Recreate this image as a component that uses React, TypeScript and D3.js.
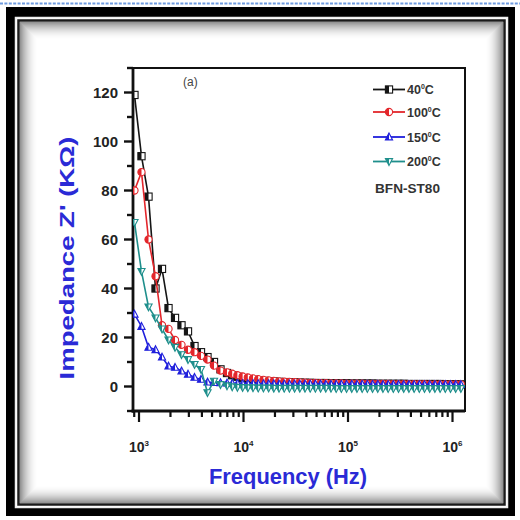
import React from 'react';
import * as d3 from 'd3';

// Frequency (Hz)
const freq = [905, 1056, 1233, 1439, 1660, 1916, 2211, 2551, 2944, 3397, 3920, 4524, 5220, 6024, 6952,
  7795, 8741, 9801, 10990, 12320, 13820, 15500, 17380, 19480, 21850, 24500, 27470, 30800, 34540, 38730,
  43430, 48690, 54600, 61220, 68650, 76980, 86310, 96780, 108500, 121700, 136500, 153000, 171600, 192400, 215700,
  241900, 271200, 304100, 341000, 382400, 428800, 480800, 539100, 604500, 677800, 760000, 852200, 955600, 1071000, 1201000];

// Z' (kOhm)
const z40 = [119, 94, 77.5, 40, 48, 32, 28, 25, 22.5, 16.5, 14, 12, 10, 7, 5.5,
  4.6, 4.0, 3.4, 3.0, 2.7, 2.5, 2.3, 2.1, 2.0, 1.9,
  1.8, 1.7, 1.6, 1.6, 1.5, 1.5, 1.4, 1.4, 1.4, 1.3,
  1.3, 1.3, 1.3, 1.2, 1.2, 1.2, 1.2, 1.2, 1.1, 1.1,
  1.1, 1.1, 1.1, 1.1, 1.0, 1.0, 1.0, 1.0, 1.0, 1.0,
  1.0, 0.9, 0.9, 0.9, 0.9];
const z100 = [80, 87.5, 60, 45, 25, 23.5, 19, 17, 15, 14, 12.5, 11, 8.5, 6.5, 5.8,
  5.2, 4.6, 4.1, 3.7, 3.3, 3.0, 2.7, 2.5, 2.3, 2.1,
  2.0, 1.9, 1.8, 1.7, 1.6, 1.5, 1.5, 1.4, 1.4, 1.3,
  1.3, 1.3, 1.2, 1.2, 1.2, 1.2, 1.1, 1.1, 1.1, 1.1,
  1.1, 1.0, 1.0, 1.0, 1.0, 1.0, 1.0, 1.0, 0.9, 0.9,
  0.9, 0.9, 0.9, 0.9, 0.9];
const z150 = [29.5, 24.5, 16, 15, 12, 8.3, 7.8, 6.3, 5, 3.7, 2.9, 1.8, 1.6, 1.5, 1.4,
  1.3, 1.3, 1.2, 1.2, 1.2, 1.1, 1.1, 1.1, 1.1, 1.0,
  1.0, 1.0, 1.0, 1.0, 1.0, 1.0, 1.0, 1.0, 0.9, 0.9,
  0.9, 0.9, 0.9, 0.9, 0.9, 0.9, 0.9, 0.9, 0.9, 0.8,
  0.8, 0.8, 0.8, 0.8, 0.8, 0.8, 0.8, 0.8, 0.8, 0.8,
  0.8, 0.8, 0.8, 0.8, 0.8];
const z200 = [67, 47, 32.5, 28, 23.5, 19, 16, 13, 11, 9, 7, -2.5, 2.2, 0.8, 0.3,
  -0.1, -0.3, -0.4, -0.5, -0.5, -0.6, -0.6, -0.6, -0.7, -0.7,
  -0.7, -0.7, -0.7, -0.7, -0.7, -0.7, -0.7, -0.7, -0.7, -0.7,
  -0.8, -0.8, -0.8, -0.8, -0.8, -0.8, -0.8, -0.8, -0.8, -0.8,
  -0.8, -0.8, -0.8, -0.8, -0.8, -0.8, -0.8, -0.8, -0.8, -0.8,
  -0.8, -0.8, -0.8, -0.8, -0.8];

const seriesLabels = ['40', '100', '150', '200'];
const seriesColors = ['#151515', '#e3262b', '#1f1fdc', '#1f8f8c'];
const seriesShapes = ['square', 'circle', 'up', 'down'];
const seriesData = [z40, z100, z150, z200];

const yMajor = [0, 20, 40, 60, 80, 100, 120];
const yAll = [-10, 0, 10, 20, 30, 40, 50, 60, 70, 80, 90, 100, 110, 120, 130];
const xMajorExp = [3, 4, 5, 6];

function Marker({ shape, cx, cy, color }: { shape: string; cx: number; cy: number; color: string }) {
  const r = 3.6;
  if (shape === 'square') {
    return (
      <g>
        <rect x={cx - r} y={cy - r} width={2 * r} height={2 * r} fill="#fff" stroke={color} strokeWidth={1.1} />
        <rect x={cx - r} y={cy - r} width={r} height={2 * r} fill={color} />
      </g>
    );
  }
  if (shape === 'circle') {
    return (
      <g>
        <circle cx={cx} cy={cy} r={r} fill="#fff" stroke={color} strokeWidth={1.1} />
        <path d={`M${cx},${cy - r} A${r},${r} 0 0 0 ${cx},${cy + r} Z`} fill={color} />
      </g>
    );
  }
  const s = shape === 'up' ? 1 : -1;
  const tip = cy - s * r * 1.1;
  const base = cy + s * r * 0.8;
  return (
    <g>
      <polygon points={`${cx},${tip} ${cx + r},${base} ${cx - r},${base}`} fill="#fff" stroke={color} strokeWidth={1.1} />
      <polygon points={`${cx},${tip} ${cx},${base} ${cx - r},${base}`} fill={color} />
    </g>
  );
}

export default function App() {
  const W = 520, H = 520;
  const L = 133, R = 465, T = 68, B = 411;
  const x = d3.scaleLog().domain([876, 1.317e6]).range([L, R]);
  const y = d3.scaleLinear().domain([-10, 130]).range([B, T]);
  const xTicks = x.ticks();
  const line = d3.line<number>().x((_, i) => x(freq[i])).y((d) => y(d));
  const font = "'Liberation Sans', Arial, sans-serif";
  const blue = '#2a2ad6';

  const shadow = d3.range(0, 18);

  return (
    <svg width={W} height={H} style={{ position: 'absolute', left: 0, top: 0, background: '#fff' }} fontFamily={font}>
      <defs>
        <clipPath id="plotclip">
          <rect x={L} y={T} width={R - L} height={B - T} />
        </clipPath>
      </defs>
      <rect x={0} y={0} width={W} height={H} fill="#fff" />
      <line x1={0} x2={W} y1={3.5} y2={3.5} stroke="#6f9be0" strokeWidth={2} strokeDasharray="3,1.4" />
      {/* frame */}
      <rect x={6} y={7} width={509} height={509} fill="#000" />
      <rect x={15.5} y={17.5} width={492} height={490} fill="#fff" stroke="#eee" strokeWidth={1.5} />
      <rect x={18.5} y={20.5} width={486} height={484} fill="#fff" stroke="#1a1a1a" strokeWidth={2.5} />
      {shadow.map((k) => (
        <rect key={k} x={20.5 + k} y={22.5 + k} width={482 - 2 * k} height={480 - 2 * k} fill="none"
          stroke="#000" strokeOpacity={0.42 * Math.pow(1 - k / 18, 2)} strokeWidth={1} />
      ))}

      {/* plot box */}
      <rect x={L} y={T} width={R - L} height={B - T} fill="#fff" stroke="#111" strokeWidth={2} />
      <line x1={L} x2={L} y1={T} y2={B + 1.5} stroke="#111" strokeWidth={2.8} />
      <line x1={L - 1.4} x2={R} y1={B} y2={B} stroke="#111" strokeWidth={2.8} />

      {/* y ticks */}
      {yAll.map((v) => {
        const major = yMajor.includes(v);
        return <line key={v} x1={L - (major ? 9 : 6)} x2={L} y1={y(v)} y2={y(v)} stroke="#111" strokeWidth={2.4} />;
      })}
      {yMajor.map((v) => (
        <text key={v} x={118} y={y(v)} dy="0.36em" textAnchor="end" fontSize={15} fontWeight="bold" fill="#222">{v}</text>
      ))}

      {/* x ticks */}
      {xTicks.map((t, i) => {
        const major = Math.abs(Math.log10(t) - Math.round(Math.log10(t))) < 1e-6;
        return <line key={i} x1={x(t)} x2={x(t)} y1={B} y2={B + (major ? 11 : 6)} stroke="#111" strokeWidth={2.2} />;
      })}
      {xMajorExp.map((e) => (
        <text key={e} x={x(Math.pow(10, e))} y={452} textAnchor="middle" fontSize={14} fontWeight="bold" fill="#222">
          <tspan>10</tspan>
          <tspan dy={-6} fontSize={8}>{e}</tspan>
        </text>
      ))}

      {/* data */}
      <g clipPath="url(#plotclip)">
        {seriesData.map((d, si) => (
          <g key={si}>
            <path d={line(d) || ''} fill="none" stroke={seriesColors[si]} strokeWidth={1.6} />
            {d.map((v, i) => (
              <Marker key={i} shape={seriesShapes[si]} cx={x(freq[i])} cy={y(v)} color={seriesColors[si]} />
            ))}
          </g>
        ))}
      </g>

      {/* annotation */}
      <text x={183} y={86} fontSize={12} fill="#444">(a)</text>

      {/* legend */}
      {seriesLabels.map((lab, i) => {
        const ly = [89.5, 112, 137, 161.5][i];
        return (
          <g key={lab}>
            <line x1={373} x2={405} y1={ly} y2={ly} stroke={seriesColors[i]} strokeWidth={1.8} />
            <Marker shape={seriesShapes[i]} cx={389} cy={ly} color={seriesColors[i]} />
            <text x={407} y={ly} dy="0.36em" fontSize={12.5} fontWeight="bold" fill="#333">
              <tspan>{lab}</tspan>
              <tspan dy={-5} fontSize={7}>0</tspan>
              <tspan dy={5}>C</tspan>
            </text>
          </g>
        );
      })}
      <text x={375} y={188} dy="0.36em" fontSize={12.5} fontWeight="bold" fill="#333" textLength={65} lengthAdjust="spacingAndGlyphs">BFN-ST80</text>

      {/* axis titles */}
      <text x={288} y={484} textAnchor="middle" fontSize={22} fontWeight="bold" fill={blue} textLength={158} lengthAdjust="spacingAndGlyphs">Frequency (Hz)</text>
      <text transform="translate(74,258) rotate(-90)" textAnchor="middle" fontSize={21} fontWeight="bold" fill={blue} textLength={243} lengthAdjust="spacingAndGlyphs">Impedance Z' (KΩ)</text>
    </svg>
  );
}
